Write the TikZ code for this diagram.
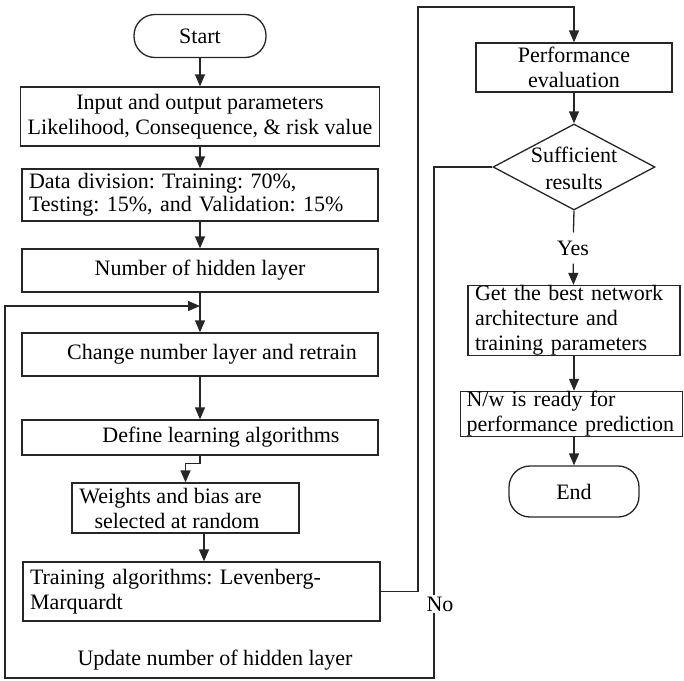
\documentclass[tikz,border=0pt]{standalone}
\usepackage{fontspec}
\setmainfont{Liberation Serif}
\usetikzlibrary{arrows.meta,shapes.geometric}
\frenchspacing
\begin{document}
\begin{tikzpicture}[x=1pt,y=-1pt,
  txt/.style={inner sep=0pt, align=center, font=\fontsize{22}{25}\selectfont},
  box/.style={draw=black!85, line width=1.3pt, rectangle, inner xsep=7pt, inner ysep=0pt, font=\fontsize{22}{25}\selectfont},
  term/.style={box, rounded corners=21pt},
  dia/.style={draw=black!85, line width=1.3pt, diamond, inner sep=0pt, minimum width=162pt, minimum height=86pt},
  arr/.style={line width=1.3pt, draw=black!85, -{Triangle[length=12pt,width=10pt]}},
  ln/.style={line width=1.3pt, draw=black!85}]
\useasboundingbox (0,0) rectangle (684,680);
% left column
\node[term, minimum width=132pt, minimum height=43pt] (start) at (200,36) {Start};
\node[box, minimum width=356pt, minimum height=59pt, align=center] (in1) at (200,116.5) {Input and output parameters\\Likelihood, Consequence, \& risk value};
\node[box, text width=342pt, minimum height=52pt, align=left, font=\fontsize{22}{23}\selectfont] (div) at (200,195) {Data division: Training: 70\%,\\Testing: 15\%, and Validation: 15\%};
\node[box, minimum width=356pt, minimum height=43pt] (hid) at (200,270.5) {Number of hidden layer};
\node[box, minimum width=356pt, minimum height=43pt] (chg) at (200,354.5) {\mbox{\hspace{24pt}Change number layer and retrain}};
\node[box, minimum width=356pt, minimum height=35pt] (def) at (200,437.5) {\mbox{\hspace{42pt}Define learning algorithms}};
\node[box, minimum width=227pt, minimum height=50pt, align=center] (wts) at (185.5,508) {\mbox{Weights and bias are\hspace{30pt}}\\\mbox{selected at random\hspace{17pt}}};
\node[box, text width=343pt, minimum height=59pt, align=left] (trn) at (201.5,591.5) {Training algorithms: Levenberg-\\Marquardt};
% right column
\node[box, minimum width=196pt, minimum height=49pt, align=center] (perf) at (574,67.5) {Performance\\evaluation};
\node[dia] (suf) at (574,167) {};
\node[txt, font=\fontsize{22}{27}\selectfont] (suft) at (574,168) {Sufficient\\results};
\node[txt, inner ysep=8pt] (yes) at (573,248) {Yes};
\node[box, text width=198pt, minimum height=67pt, align=left] (best) at (574,320.5) {Get the best network\\architecture and\\training parameters};
\node[box, inner xsep=6pt, text width=210pt, minimum height=44pt, align=left] (nw) at (571.5,414) {N/w is ready for\\performance prediction};
\node[term, minimum width=130pt, minimum height=51pt] (end) at (574,491.5) {End};
% labels
\node[txt] (upd) at (215,660) {Update number of hidden layer};
% coordinates
\coordinate (merge) at (200,306);
\coordinate (tr1) at (418,7);
\coordinate (nob) at (434,678);
\coordinate (noc) at (5,306);
% connectors
\draw[arr] (start) -- (in1);
\draw[arr] (in1) -- (div);
\draw[arr] (div) -- (hid);
\draw[arr] (hid) -- (chg);
\draw[arr] (chg) -- (def);
\draw[arr] (def.south) -- ++(0,8) -| (wts.north);
\draw[arr] ([xshift=18.5pt]wts.south) -- ([xshift=18.5pt]wts.south |- trn.north);
\draw[arr] (trn.east) -| (tr1) -| (perf.north);
\draw[arr] (perf) -- (suf);
\draw[ln] (suf.south) -- (yes);
\draw[arr] (yes) -- (best);
\draw[arr] (best.south -| end.north) -- (end.north |- nw.north);
\draw[arr] (end.north |- nw.south) -- (end.north);
\draw[arr] (suf.west) -| (nob) -| (noc) -- (merge);
\node[txt, fill=white, inner sep=2pt] (no) at (440,604) {No};
\end{tikzpicture}
\end{document}
